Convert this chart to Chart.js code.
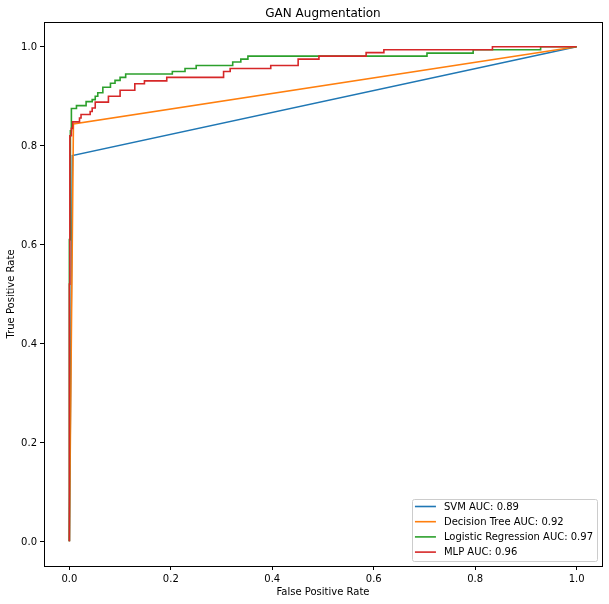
<!DOCTYPE html>
<html>
<head>
<meta charset="utf-8">
<script src="https://cdn.jsdelivr.net/npm/chart.js@4"></script>
<style>
  html, body { margin: 0; padding: 0; background: #fff; }
</style>
</head>
<body>
<canvas id="rocChart" width="609" height="604"></canvas>
<script>
// chart data
const chartTitle = "GAN Augmentation";
const xAxisTitle = "False Positive Rate";
const yAxisTitle = "True Positive Rate";
const tickValues = [0, 0.2, 0.4, 0.6, 0.8, 1.0];

const seriesLabels = [
  "SVM AUC: 0.89",
  "Decision Tree AUC: 0.92",
  "Logistic Regression AUC: 0.97",
  "MLP AUC: 0.96"
];
const seriesColors = ["#1f77b4", "#ff7f0e", "#2ca02c", "#d62728"];

const svmFpr = [0, 0.006, 1];
const svmTpr = [0, 0.78, 1];

const dtFpr = [0, 0.008, 1];
const dtTpr = [0, 0.844, 1];

// step curves: each point is where the curve steps up
const lrFpr = [0, 0, 0.002, 0.004, 0.014, 0.033, 0.045, 0.051, 0.056, 0.066, 0.081, 0.090, 0.100, 0.111,
  0.203, 0.228, 0.250, 0.322, 0.338, 0.352, 0.705, 0.796, 0.929, 1.0];
const lrTpr = [0, 0.61, 0.83, 0.875, 0.881, 0.889, 0.893, 0.900, 0.907, 0.918, 0.926, 0.932, 0.938, 0.945,
  0.950, 0.956, 0.962, 0.969, 0.975, 0.981, 0.987, 0.994, 1.0, 1.0];

const mlpFpr = [0, 0, 0.001, 0.004, 0.0065, 0.020, 0.023, 0.041, 0.045, 0.051, 0.077, 0.100, 0.129, 0.148,
  0.192, 0.304, 0.317, 0.397, 0.451, 0.492, 0.585, 0.620, 0.834, 1.0];
const mlpTpr = [0, 0.52, 0.82, 0.835, 0.848, 0.856, 0.863, 0.869, 0.876, 0.888, 0.900, 0.912, 0.925, 0.931,
  0.938, 0.950, 0.956, 0.962, 0.975, 0.981, 0.988, 0.994, 1.0, 1.0];

const FONT = '"DejaVu Sans", sans-serif';

function toPoints(xs, ys) {
  return xs.map((x, i) => ({ x: x, y: ys[i] }));
}

function makeSet(i, xs, ys, stepped) {
  return {
    label: seriesLabels[i],
    data: toPoints(xs, ys),
    borderColor: seriesColors[i],
    backgroundColor: seriesColors[i],
    borderWidth: 1.6,
    pointRadius: 0,
    showLine: true,
    stepped: stepped,
    order: 4 - i   // later series drawn on top, like matplotlib
  };
}

// spines, title and legend drawn like matplotlib
const framePlugin = {
  id: "frame",
  afterDraw(chart) {
    const ctx = chart.ctx;
    const a = chart.chartArea;
    ctx.save();

    ctx.strokeStyle = "#000";
    ctx.lineWidth = 1;
    ctx.strokeRect(Math.round(a.left) + 0.5, Math.round(a.top) + 0.5,
      Math.round(a.right - a.left), Math.round(a.bottom - a.top));

    ctx.fillStyle = "#000";
    ctx.font = "12px " + FONT;
    ctx.textAlign = "center";
    ctx.textBaseline = "alphabetic";
    ctx.fillText(chartTitle, (a.left + a.right) / 2, a.top - 5);

    // legend, lower right
    ctx.font = "10px " + FONT;
    let textW = 0;
    seriesLabels.forEach(t => { textW = Math.max(textW, ctx.measureText(t).width); });
    const boxW = 4 + 20 + 8 + textW + 4;
    const boxH = 62;
    const bx = a.right - 5 - boxW;
    const by = a.bottom - 5 - boxH;
    ctx.beginPath();
    ctx.roundRect(Math.round(bx) + 0.5, Math.round(by) + 0.5, Math.round(boxW), boxH, 2);
    ctx.fillStyle = "rgba(255,255,255,0.8)";
    ctx.fill();
    ctx.strokeStyle = "#cccccc";
    ctx.stroke();

    ctx.textAlign = "left";
    ctx.textBaseline = "middle";
    seriesLabels.forEach((t, i) => {
      const y = by + 7.5 + i * 15.2;
      ctx.beginPath();
      ctx.strokeStyle = seriesColors[i];
      ctx.lineWidth = 1.6;
      ctx.moveTo(bx + 3, y);
      ctx.lineTo(bx + 24, y);
      ctx.stroke();
      ctx.fillStyle = "#000";
      ctx.fillText(t, bx + 32, y + 0.5);
    });
    ctx.restore();
  }
};

function fixedTicks(scale) {
  scale.ticks = tickValues.map(v => ({ value: v }));
}

function axisOptions(labelOffset) {
  return {
    type: "linear",
    min: -0.05,
    max: 1.05,
    afterBuildTicks: fixedTicks,
    grid: {
      display: true,
      drawOnChartArea: false,
      drawTicks: true,
      tickLength: 4,
      color: "#000",
      lineWidth: 1
    },
    border: { display: false },
    ticks: {
      color: "#000",
      font: { family: FONT, size: 10 },
      padding: 3,
      labelOffset: labelOffset,
      autoSkip: false,
      maxRotation: 0,
      callback: v => Number(v).toFixed(1)
    }
  };
}

new Chart(document.getElementById("rocChart").getContext("2d"), {
  type: "scatter",
  data: {
    datasets: [
      makeSet(0, svmFpr, svmTpr, false),
      makeSet(1, dtFpr, dtTpr, false),
      makeSet(2, lrFpr, lrTpr, true),
      makeSet(3, mlpFpr, mlpTpr, true)
    ]
  },
  options: {
    responsive: false,
    animation: false,
    layout: { padding: { top: 22, right: 7, left: 0, bottom: 0 } },
    plugins: {
      legend: { display: false },
      title: { display: false },
      tooltip: { enabled: false }
    },
    scales: {
      x: Object.assign(axisOptions(0), {
        position: "bottom",
        afterFit: s => { s.height = 38; },
        title: {
          display: true, text: xAxisTitle, color: "#000",
          font: { family: FONT, size: 10 }, padding: { top: 4, bottom: 6 }
        }
      }),
      y: Object.assign(axisOptions(1), {
        position: "left",
        afterFit: s => { s.width = 44; },
        title: {
          display: true, text: yAxisTitle, color: "#000",
          font: { family: FONT, size: 10 }, padding: { top: 5, bottom: 4 }
        }
      })
    }
  },
  plugins: [framePlugin]
});
</script>
</body>
</html>
